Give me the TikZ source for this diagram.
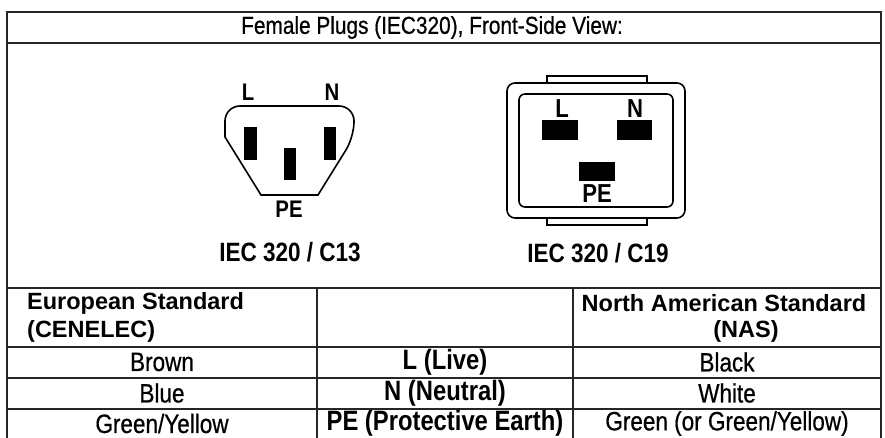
\documentclass[tikz,border=0pt]{standalone}
\usepackage{fontspec}
\setmainfont{Liberation Sans}
\newfontfamily\narrowfont[FakeStretch=0.85,UprightFeatures={FakeBold=0.6}]{Liberation Sans}
\begin{document}
\begin{tikzpicture}[x=1pt,y=-1pt,
  frame/.style={line width=1.6pt,black!85},
  plug/.style={line width=1.6pt,black},
  pin/.style={fill=black,draw=none},
  pinlab/.style={font=\narrowfont\fontsize{24}{24}\selectfont\bfseries,inner sep=0pt},
  pinlabb/.style={font=\narrowfont\fontsize{26}{26}\selectfont\bfseries,inner sep=0pt},
  caption/.style={font=\narrowfont\fontsize{26.5}{26.5}\selectfont\bfseries,inner sep=0pt},
  cell/.style={font=\narrowfont\fontsize{26.5}{26.5}\selectfont,inner sep=0pt},
  bcell/.style={font=\narrowfont\fontsize{28}{28}\selectfont\bfseries,inner sep=0pt},
  hcell/.style={font=\fontsize{23.5}{23.5}\selectfont\bfseries,inner sep=0pt}]
\useasboundingbox (0,0) rectangle (885,438);
% frame and table lines
\draw[frame] (7,440) -- (7,12) -- (881,12) -- (881,440);
\draw[frame] (7,43) -- (881,43);
\draw[frame] (7,288) -- (881,288);
\draw[frame] (7,347) -- (881,347);
\draw[frame] (7,378) -- (881,378);
\draw[frame] (7,409) -- (881,409);
\draw[frame] (317,288) -- (317,440);
\draw[frame] (573,288) -- (573,440);
% title
\node[font=\narrowfont\fontsize{24.5}{24.5}\selectfont,inner sep=0pt] (title) at (432,27.5) {Female Plugs (IEC320), Front-Side View:};
% C13
\draw[plug] (261,195) -- (225,137) [rounded corners=15pt] -- (225,106) -- (354,106) -- (354,137) [sharp corners] -- (318,195) -- cycle;
\fill[pin] (244,127) rectangle (257,160);
\fill[pin] (324,127) rectangle (336,160);
\fill[pin] (284,148) rectangle (296,180);
\node[pinlab] (c13L) at (248,92) {L};
\node[pinlab] (c13N) at (332,92) {N};
\node[pinlab] (c13PE) at (289,209) {PE};
\node[caption] (c13) at (290,252) {IEC 320 / C13};
% C19
\draw[plug,fill=white] (547,76) rectangle (647,90);
\draw[plug,fill=white] (547,212) rectangle (647,225);
\draw[plug,fill=white,rounded corners=8pt] (507,83) rectangle (685,218);
\draw[plug,rounded corners=6pt] (519,94) rectangle (673,207);
\fill[pin] (542,120) rectangle (578,140);
\fill[pin] (617,120) rectangle (652,140);
\fill[pin] (579,162) rectangle (615,181);
\node[pinlabb] (c19L) at (562,109) {L};
\node[pinlabb] (c19N) at (635,109) {N};
\node[pinlabb] (c19PE) at (597,194) {PE};
\node[caption] (c19) at (598,253) {IEC 320 / C19};
% table header
\node[hcell,anchor=west] (eu1) at (27,303) {European Standard};
\node[hcell,anchor=west] (eu2) at (27,331) {(CENELEC)};
\node[hcell] (na1) at (724,303) {North American Standard};
\node[hcell] (na2) at (746,331) {(NAS)};
% rows
\node[cell] (r1a) at (162,362) {Brown};
\node[bcell] (r1b) at (445,362) {L (Live)};
\node[cell] (r1c) at (727,362) {Black};
\node[cell] (r2a) at (162,393) {Blue};
\node[bcell] (r2b) at (445,393) {N (Neutral)};
\node[cell] (r2c) at (727,393) {White};
\node[cell] (r3a) at (162,423.5) {Green/Yellow};
\node[bcell] (r3b) at (445,423.5) {PE (Protective Earth)};
\node[cell] (r3c) at (727,423.5) {Green (or Green/Yellow)};
\end{tikzpicture}
\end{document}
